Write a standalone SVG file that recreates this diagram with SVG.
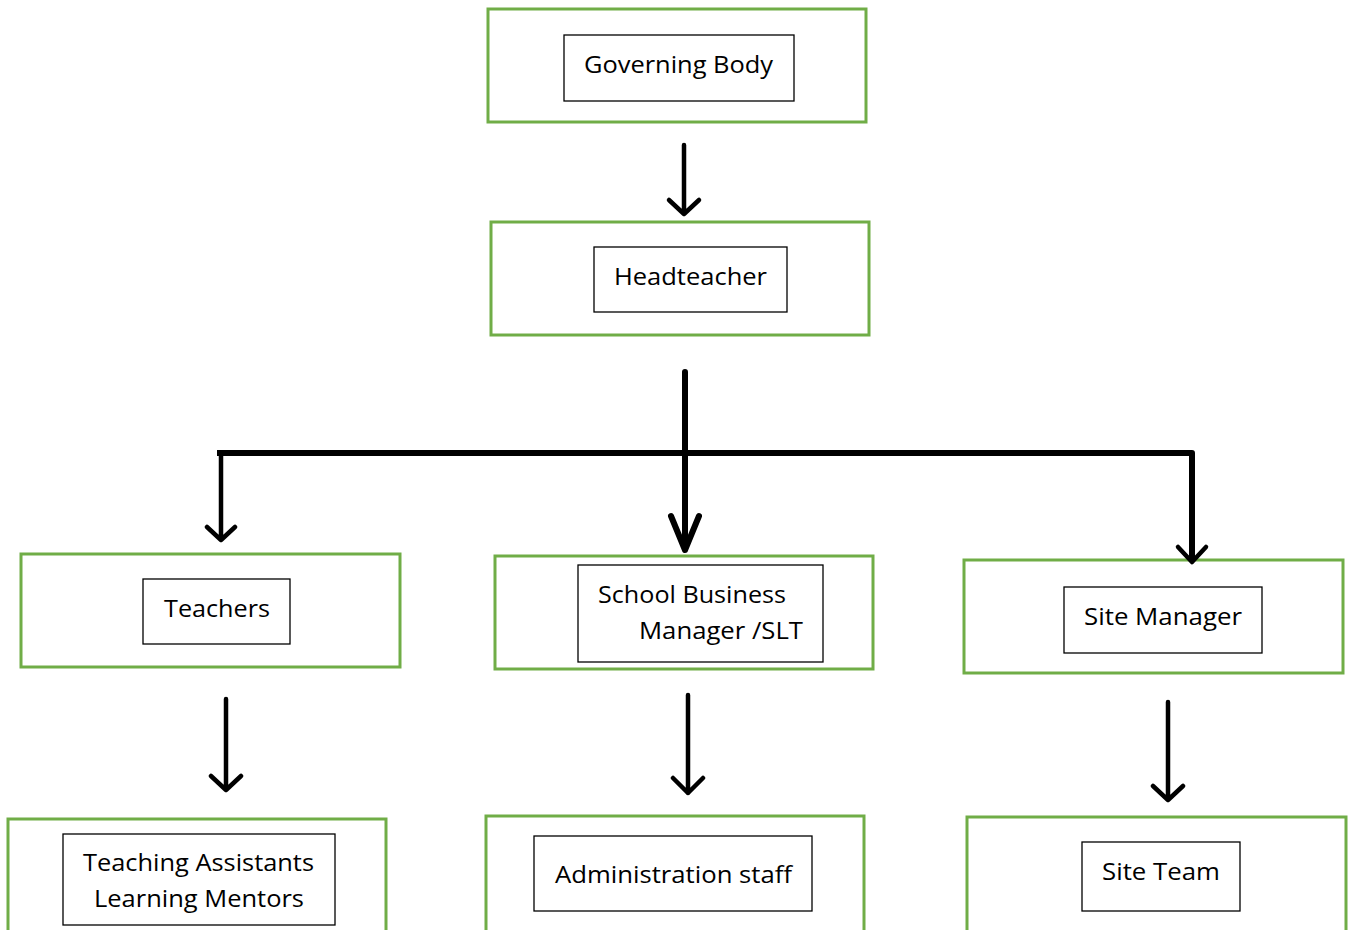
<svg xmlns="http://www.w3.org/2000/svg" width="1352" height="930" viewBox="0 0 1352 930">
<style>
.outer{fill:#fff;stroke:#70AD47;stroke-width:3}
.inner{fill:#fff;stroke:#000;stroke-width:1.3}
.t{font-family:"Open Sans","Liberation Sans",sans-serif;font-size:24px;fill:#000}
.c{fill:none;stroke:#000;stroke-width:4.5;stroke-linecap:round;stroke-linejoin:round}
.ct{fill:none;stroke:#000;stroke-width:6;stroke-linecap:round;stroke-linejoin:round}
</style>
<rect width="1352" height="930" fill="#fff"/>
<g id="governing-body">
<rect class="outer" x="488" y="9" width="378" height="113"/>
<rect class="inner" x="564" y="35" width="230" height="66"/>
<text class="t" x="584" y="73" textLength="189" lengthAdjust="spacingAndGlyphs">Governing Body</text>
</g>
<g id="headteacher">
<rect class="outer" x="491" y="222" width="378" height="113"/>
<rect class="inner" x="594" y="247" width="193" height="65"/>
<text class="t" x="614" y="285" textLength="153" lengthAdjust="spacingAndGlyphs">Headteacher</text>
</g>
<g id="teachers">
<rect class="outer" x="21" y="554" width="379" height="113"/>
<rect class="inner" x="143" y="579" width="147" height="65"/>
<text class="t" x="164" y="617" textLength="106" lengthAdjust="spacingAndGlyphs">Teachers</text>
</g>
<g id="school-business-manager">
<rect class="outer" x="495" y="556" width="378" height="113"/>
<rect class="inner" x="578" y="565" width="245" height="97"/>
<text class="t" x="598" y="603" textLength="188" lengthAdjust="spacingAndGlyphs">School Business</text>
<text class="t" x="639" y="639" textLength="164" lengthAdjust="spacingAndGlyphs">Manager /SLT</text>
</g>
<g id="site-manager">
<rect class="outer" x="964" y="560" width="379" height="113"/>
<rect class="inner" x="1064" y="587" width="198" height="66"/>
<text class="t" x="1084" y="625" textLength="158" lengthAdjust="spacingAndGlyphs">Site Manager</text>
</g>
<g id="teaching-assistants">
<rect class="outer" x="8" y="819" width="378" height="120"/>
<rect class="inner" x="63" y="834" width="272" height="91"/>
<text class="t" x="83" y="871" textLength="231" lengthAdjust="spacingAndGlyphs">Teaching Assistants</text>
<text class="t" x="94" y="907" textLength="210" lengthAdjust="spacingAndGlyphs">Learning Mentors</text>
</g>
<g id="administration-staff">
<rect class="outer" x="486" y="816" width="378" height="123"/>
<rect class="inner" x="534" y="836" width="278" height="75"/>
<text class="t" x="555" y="883" textLength="237" lengthAdjust="spacingAndGlyphs">Administration staff</text>
</g>
<g id="site-team">
<rect class="outer" x="967" y="817" width="379" height="122"/>
<rect class="inner" x="1082" y="842" width="158" height="69"/>
<text class="t" x="1102" y="880" textLength="118" lengthAdjust="spacingAndGlyphs">Site Team</text>
</g>
<g id="connectors">
<path class="c" d="M684 145 V214 M669 200 L684 214 L699 200"/>
<path class="ct" d="M685 372 V550 M671 516 L685 550 L699 516"/>
<path class="ct" d="M217 453 H1192 V562" style="stroke-linecap:butt"/>
<path class="c" d="M1178 547 L1192 562 L1206 547"/>
<path class="c" d="M221 455 V540 M207 527 L221 540 L235 527"/>
<path class="c" d="M226 699 V790 M211 776 L226 790 L241 776"/>
<path class="c" d="M688 695 V793 M673 778 L688 793 L703 778"/>
<path class="c" d="M1168 702 V800 M1153 786 L1168 800 L1183 786"/>
</g>
</svg>
